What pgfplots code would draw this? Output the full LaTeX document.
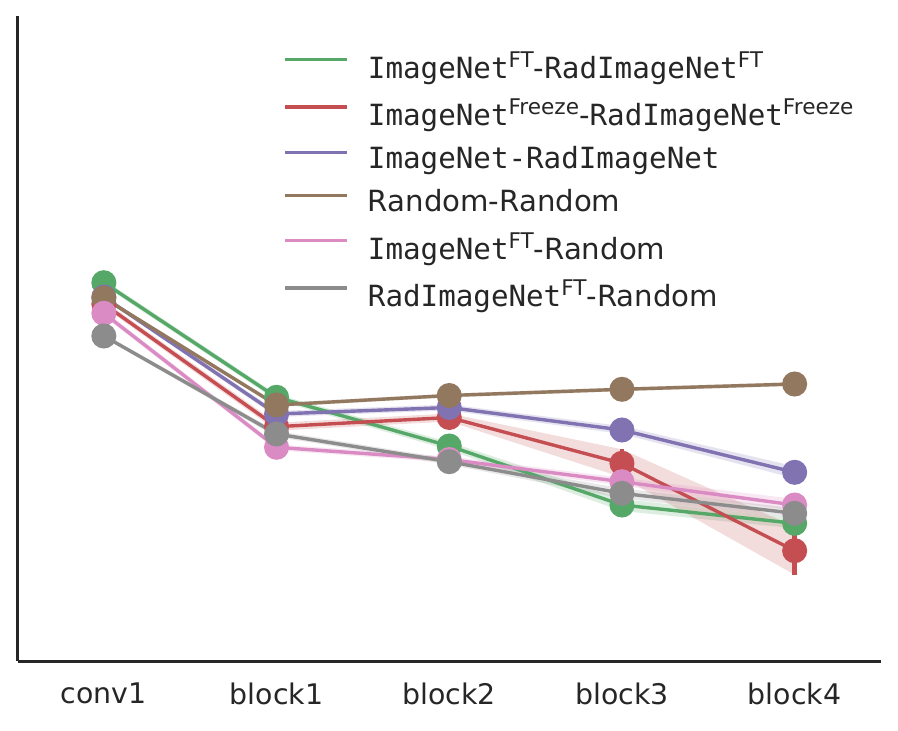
\documentclass[border=0pt]{standalone}
\usepackage{fontspec}
\setmainfont{DejaVu Sans}
\setmonofont{DejaVu Sans Mono}
\usepackage{pgfplots}
\pgfplotsset{compat=1.18}
\definecolor{sgreen}{HTML}{55A868}
\definecolor{sred}{HTML}{C44E52}
\definecolor{spurple}{HTML}{8172B2}
\definecolor{sbrown}{HTML}{937860}
\definecolor{spink}{HTML}{DA8BC3}
\definecolor{sgray}{HTML}{8C8C8C}
\definecolor{spine}{HTML}{262626}
\newcommand\sups[1]{\raisebox{5.5pt}{\fontsize{10.8pt}{10pt}\selectfont #1}}
\pgfplotsset{
  ser/.style={color=#1, line width=1.7pt, mark=*, mark size=5.4pt,
    mark options={solid},
    error bars/.cd, y dir=both, y explicit, error mark=none,
    error bar style={line width=2.3pt, color=#1}},
  band/.style={fill=#1, fill opacity=0.2, draw=none, forget plot}
}
\begin{document}
\begin{tikzpicture}
\useasboundingbox (-8.75pt,-34.5pt) rectangle (440.25pt,330.5pt);
\begin{axis}[
  scale only axis, width=431.75pt, height=322.5pt,
  xmin=-0.5, xmax=4.5, ymin=0, ymax=645,
  clip=false,
  axis x line*=bottom, axis y line*=left,
  axis line style={-, line width=1.5pt, color=spine},
  xtick={0,1,2,3,4},
  xticklabels={conv1,block1,block2,block3,block4},
  ytick=\empty,
  major tick length=0pt,
  tick label style={font=\fontsize{14.2pt}{16pt}\selectfont, text=spine},
  x tick label style={yshift=-7.5pt},
  legend style={at={(0.3007,0.958)}, anchor=north west, draw=none, fill=none,
    font=\fontsize{14.6pt}{17pt}\selectfont, text=spine, row sep=4.9pt,
    /tikz/every odd column/.append style={column sep=7.5pt}},
  legend cell align=left,
  legend image code/.code={\draw[#1, line width=1.7pt] (0pt,0.34em) -- (31pt,0.34em);},
]
% confidence bands
\addplot[band=sgreen] coordinates {(0,381.3) (1,266.7) (2,219) (3,162) (4,142.7) (4,132.7) (3,150) (2,211) (1,260.7) (0,375.3)} -- cycle;
\addplot[band=sred] coordinates {(0,360) (1,238.3) (2,247.5) (3,211.7) (4,134.3) (4,86.3) (3,183.7) (2,239.5) (1,230.3) (0,354)} -- cycle;
\addplot[band=spurple] coordinates {(0,366) (1,250) (2,256.5) (3,235) (4,194.7) (4,182.7) (3,227) (2,250.5) (1,244) (0,362)} -- cycle;
\addplot[band=sbrown] coordinates {(0,365) (1,258) (2,267.5) (3,273.7) (4,279) (4,275) (3,269.7) (2,263.5) (1,254) (0,361)} -- cycle;
\addplot[band=spink] coordinates {(0,350.7) (1,216.7) (2,204.5) (3,183.3) (4,162) (4,150) (3,175.3) (2,198.5) (1,210.7) (0,344.7)} -- cycle;
\addplot[band=sgray] coordinates {(0,327) (1,230) (2,202.3) (3,172.7) (4,152.7) (4,142.7) (3,162.7) (2,196.3) (1,224) (0,323)} -- cycle;
% series
\addplot[ser=sgreen] coordinates {(0,378.3) +- (0,3) (1,263.7) +- (0,3) (2,215) +- (0,4) (3,156) +- (0,6) (4,137.7) +- (0,5)};
\addlegendentry{\texttt{ImageNet}\sups{FT}-\texttt{RadImageNet}\sups{FT}}
\addplot[ser=sred] coordinates {(0,357) +- (0,3) (1,234.3) +- (0,4) (2,243.5) +- (0,4) (3,197.7) +- (0,14) (4,110.3) +- (0,24)};
\addlegendentry{\texttt{ImageNet}\sups{Freeze}-\texttt{RadImageNet}\sups{Freeze}}
\addplot[ser=spurple] coordinates {(0,364) +- (0,2) (1,247) +- (0,3) (2,253.5) +- (0,3) (3,231) +- (0,4) (4,188.7) +- (0,6)};
\addlegendentry{\texttt{ImageNet-RadImageNet}}
\addplot[ser=sbrown] coordinates {(0,363) +- (0,2) (1,256) +- (0,2) (2,265.5) +- (0,2) (3,271.7) +- (0,2) (4,277) +- (0,2)};
\addlegendentry{Random-Random}
\addplot[ser=spink] coordinates {(0,347.7) +- (0,3) (1,213.7) +- (0,3) (2,201.5) +- (0,3) (3,179.3) +- (0,4) (4,156) +- (0,6)};
\addlegendentry{\texttt{ImageNet}\sups{FT}-Random}
\addplot[ser=sgray] coordinates {(0,325) +- (0,2) (1,227) +- (0,3) (2,199.3) +- (0,3) (3,167.7) +- (0,5) (4,147.7) +- (0,5)};
\addlegendentry{\texttt{RadImageNet}\sups{FT}-Random}
\end{axis}
\end{tikzpicture}
\end{document}
